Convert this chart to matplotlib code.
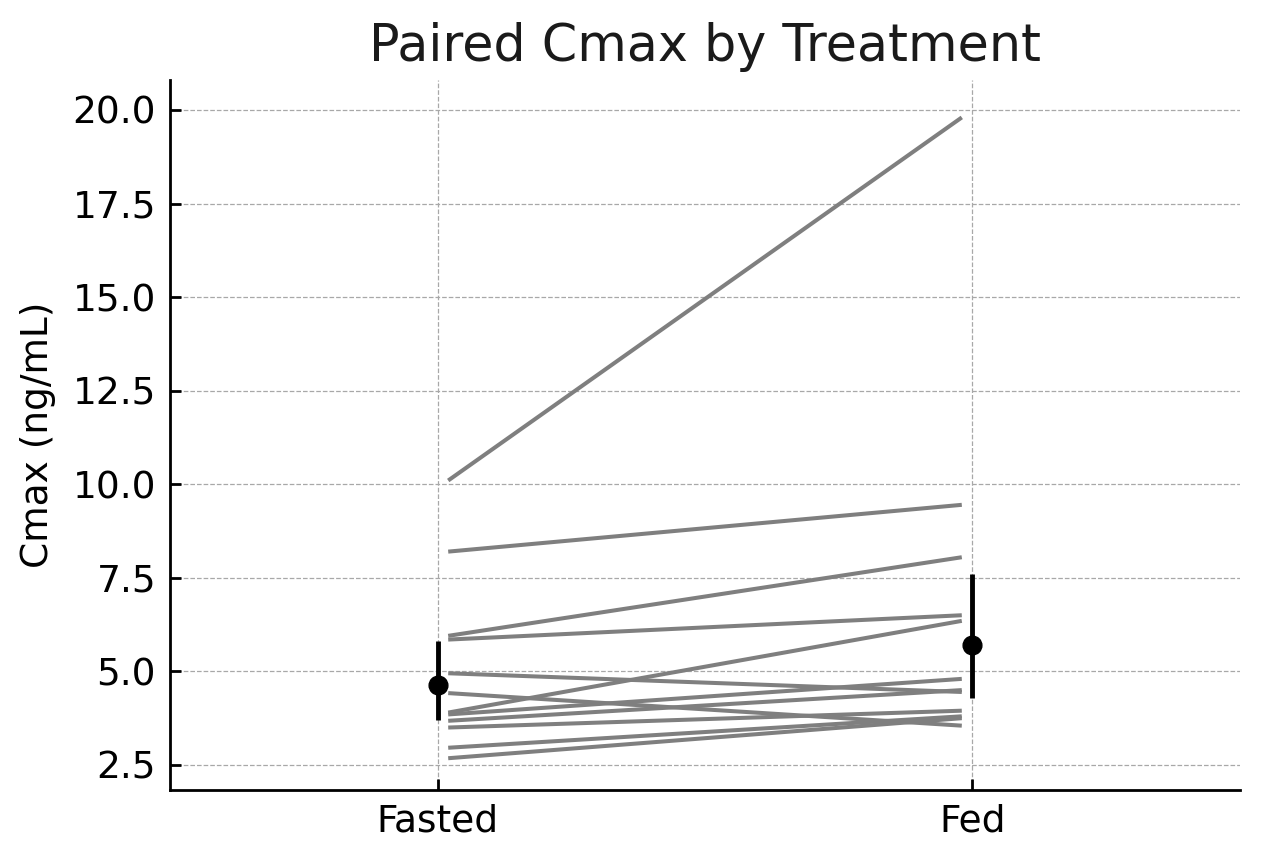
import numpy as np
import matplotlib
matplotlib.use("Agg")
import matplotlib.pyplot as plt

treatments = ["Fasted", "Fed"]
fasted = [10.1, 8.2, 5.95, 5.85, 3.9, 4.95, 4.42, 3.85, 3.68, 3.5, 2.96, 2.68]
fed    = [19.8, 9.45, 8.05, 6.5, 6.35, 4.45, 3.55, 4.8, 4.5, 3.95, 3.8, 3.75]
yticks = [2.5, 5.0, 7.5, 10.0, 12.5, 15.0, 17.5, 20.0]

fig = plt.figure(figsize=(12.64, 8.64), dpi=100)
ax = fig.add_axes([0.1345, 0.0856, 0.8465, 0.8218])

pos = np.arange(len(treatments))
off = 0.02
for a, b in zip(fasted, fed):
    ax.plot([pos[0] + off, pos[1] - off], [a, b], color="#7f7f7f", lw=2.9,
            solid_capstyle="butt", zorder=2)

# geometric mean with 95% CI
data = [np.array(fasted), np.array(fed)]
for i, d in enumerate(data):
    lg = np.log(d)
    m = lg.mean()
    se = lg.std(ddof=1) / np.sqrt(len(lg))
    gm = np.exp(m)
    lo, hi = np.exp(m - 1.96 * se), np.exp(m + 1.96 * se)
    ax.errorbar([pos[i]], [gm], yerr=[[gm - lo], [hi - gm]], fmt="o", color="black",
                ms=13.5, elinewidth=3.5, capsize=0, zorder=3)

ax.set_xlim(-0.5, 1.5)
ax.set_ylim(1.83, 20.8)
ax.set_xticks(pos)
ax.set_xticklabels(treatments)
ax.set_yticks(yticks)
ax.set_yticklabels([f"{v:.1f}" for v in yticks])
ax.grid(True, linestyle="--", color="#a8a8a8", linewidth=0.9)
ax.set_axisbelow(True)
for s in ["top", "right"]:
    ax.spines[s].set_visible(False)
for s in ["left", "bottom"]:
    ax.spines[s].set_linewidth(2)
ax.tick_params(axis="both", direction="in", length=8, width=2, labelsize=27, pad=10)
ax.set_ylabel("Cmax (ng/mL)", fontsize=27, labelpad=12)
ax.set_title("Paired Cmax by Treatment", fontsize=36.5, pad=14, color="#1a1a1a")

fig.savefig("out.png", dpi=100, facecolor="white")
